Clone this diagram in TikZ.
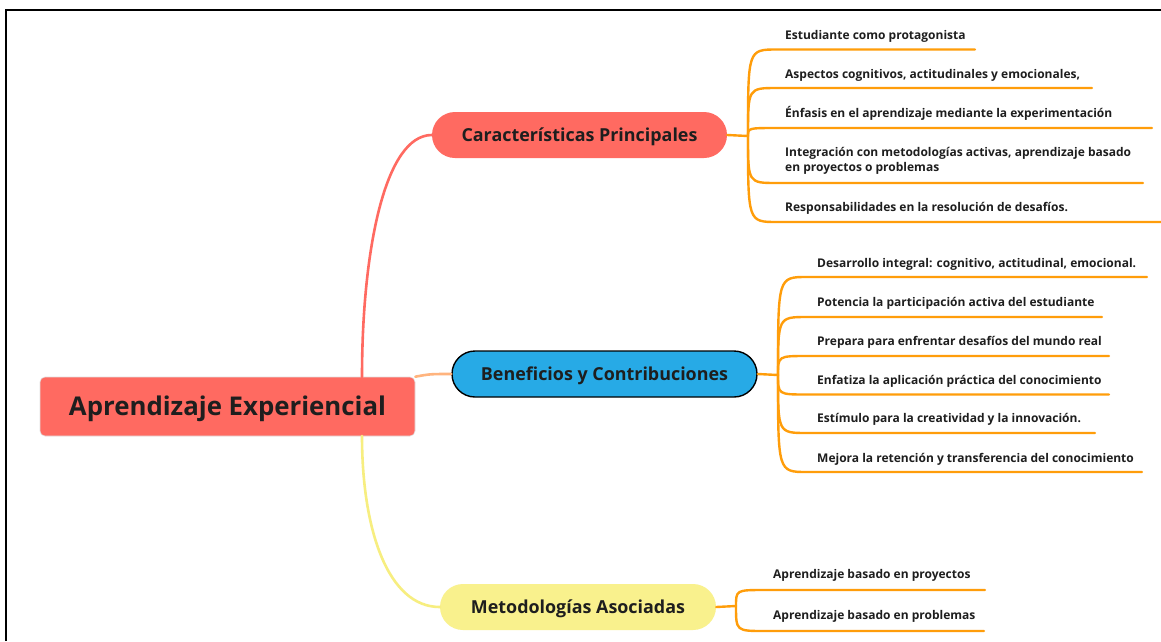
\documentclass[tikz,border=0pt]{standalone}
\usepackage{fontspec}
\setmainfont{Open Sans}
\definecolor{rootred}{HTML}{FF6A61}
\definecolor{topicblue}{HTML}{27AAE6}
\definecolor{topicyellow}{HTML}{F9F18D}
\definecolor{twigorange}{HTML}{FF9D0A}
\definecolor{peach}{HTML}{FFB47E}
\definecolor{lemon}{HTML}{F7EE80}
\definecolor{ink}{HTML}{1E1E1E}
\begin{document}
\begin{tikzpicture}[x=1pt,y=-1pt,
  leaf/.style={font=\fontsize{12}{15.3}\selectfont\bfseries, text=ink,
    inner sep=0pt, anchor=base west, align=left},
  twig/.style={draw=twigorange, line width=2.4pt, line cap=round},
  limb/.style={line width=2.6pt, line cap=round},
  topic/.style={font=\fontsize{17.9}{20}\selectfont\bfseries, text=ink,
    text height=12.8pt, text depth=0pt,
    rounded corners=23pt, minimum height=46pt, inner sep=0pt},
]
\useasboundingbox (0,0) rectangle (1161,641);
\fill[white] (0,0) rectangle (1161,641);

% page frame
\draw[line width=2pt] (5.5,641) -- (5.5,9.5) -- (1161,9.5);

% central topic and main topics
\node[fill=rootred, draw=black!12, line width=0.6pt, rounded corners=5pt,
  minimum width=375pt, minimum height=59pt, inner sep=0pt,
  text height=18.4pt, text depth=0pt,
  font=\fontsize{25.8}{28}\selectfont\bfseries, text=ink] (root) at (227.5,406.5) {Aprendizaje Experiencial};
\node[topic, fill=rootred, minimum width=295pt] (car) at (579.5,135) {Características Principales};
\node[topic, fill=topicblue, draw=black, line width=1.4pt, minimum width=305pt] (ben) at (604.5,374) {Beneficios y Contribuciones};
\node[topic, fill=topicyellow, minimum width=276pt] (met) at (578,607) {Metodologías Asociadas};

\coordinate (rtop) at (362,377);
\coordinate (rbot) at (362,436);

% junctions where the leaf twigs fan out
\coordinate (jc) at (748,136);
\coordinate (jb) at (778,375);
\coordinate (jm) at (736,606);

% ---- leaves of "Características Principales"
\foreach \name/\u/\e in {c1/49.5/975, c2/88/1092, c3/128/1152, c4/183/1143, c5/222/1161}{
  \coordinate (\name s) at (777,\u);
  \coordinate (\name e) at (\e,\u);
}
\node[leaf] (c1) at (785,39) {Estudiante como protagonista};
\node[leaf] (c2) at (785,78.5) {Aspectos cognitivos, actitudinales y emocionales,};
\node[leaf] (c3) at (785,117.5) {Énfasis en el aprendizaje mediante la experimentación};
\node[leaf] (c4) at (785,171.7) {Integración con metodologías activas, aprendizaje basado\\en proyectos o problemas};
\node[leaf] (c5) at (785,211.5) {Responsabilidades en la resolución de desafíos.};

% ---- leaves of "Beneficios y Contribuciones"
\foreach \name/\u/\e in {b1/277/1147, b2/317/1102, b3/356/1109, b4/394.5/1109, b5/433/1095, b6/472/1142}{
  \coordinate (\name s) at (807,\u);
  \coordinate (\name e) at (\e,\u);
}
\node[leaf] (b1) at (817,267.3) {Desarrollo integral: cognitivo, actitudinal, emocional.};
\node[leaf] (b2) at (817,306.3) {Potencia la participación activa del estudiante};
\node[leaf] (b3) at (817,345) {Prepara para enfrentar desafíos del mundo real};
\node[leaf] (b4) at (817,384) {Enfatiza la aplicación práctica del conocimiento};
\node[leaf] (b5) at (817,422.7) {Estímulo para la creatividad y la innovación.};
\node[leaf] (b6) at (817,462.3) {Mejora la retención y transferencia del conocimiento};

% ---- leaves of "Metodologías Asociadas"
\foreach \name/\u/\e in {m1/590/985, m2/631/984}{
  \coordinate (\name s) at (765,\u);
  \coordinate (\name e) at (\e,\u);
}
\node[leaf] (m1) at (773,578.8) {Aprendizaje basado en proyectos};
\node[leaf] (m2) at (773,619) {Aprendizaje basado en problemas};

% main branches from the central topic
\draw[limb, draw=rootred] (rtop) .. controls (362,250) and (385,135) .. (car.west);
\draw[limb, draw=peach] (root.north east) .. controls (430,374) .. (ben.west);
\draw[limb, draw=lemon] (rbot) .. controls (362,530) and (388,607) .. (met.west);

% twigs
\draw[twig] (car.east) -- (jc);
\draw[twig] (ben.east) -- (jb);
\draw[twig] (met.east) -- (jm);
\foreach \name in {c1,c2,c3,c4,c5}{
  \draw[twig] (jc) .. controls (jc |- \name s) and (jc |- \name s) .. (\name s) -- (\name e);
}
\foreach \name in {b1,b2,b3,b4,b5,b6}{
  \draw[twig] (jb) .. controls (jb |- \name s) and (jb |- \name s) .. (\name s) -- (\name e);
}
\foreach \name in {m1,m2}{
  \draw[twig] (jm) .. controls (jm |- \name s) and (jm |- \name s) .. (\name s) -- (\name e);
}
\end{tikzpicture}
\end{document}
